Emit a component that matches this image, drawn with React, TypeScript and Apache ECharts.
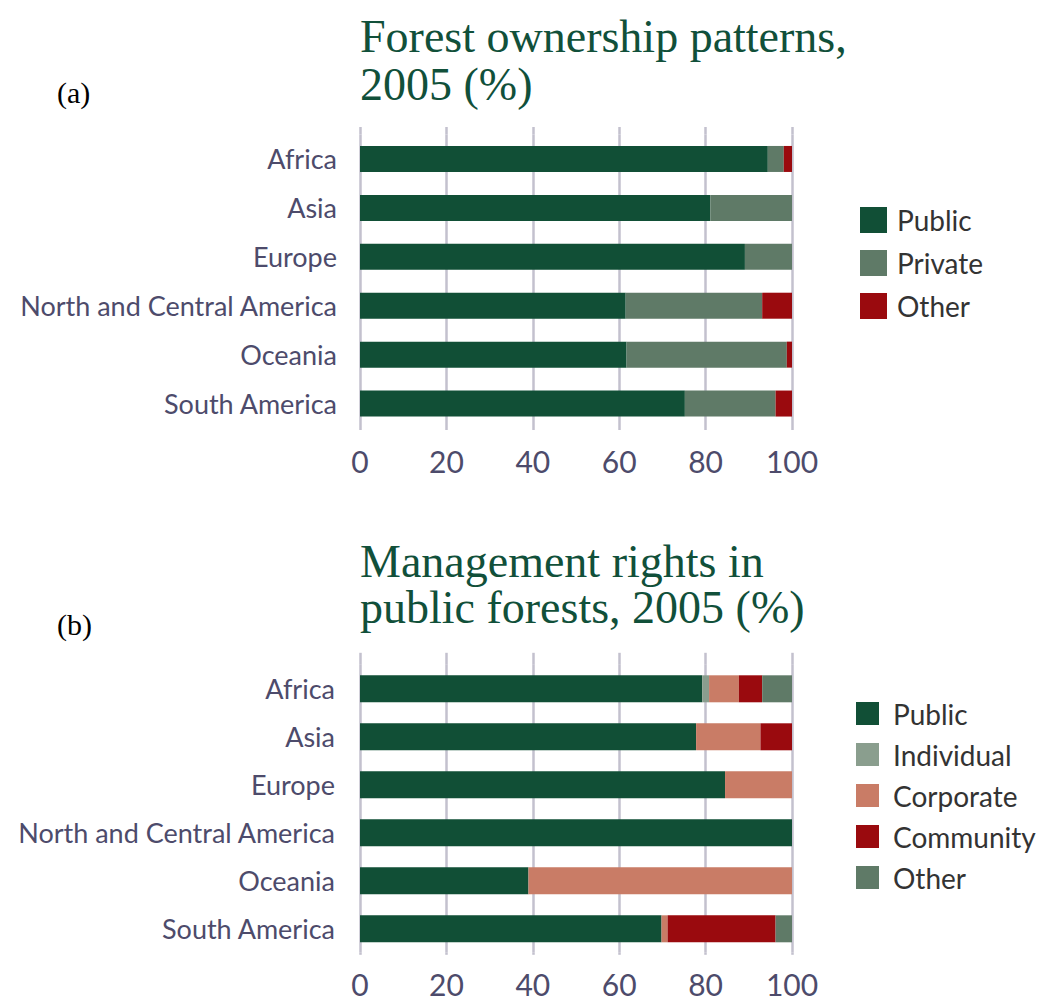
import React, { useEffect, useRef } from "react";
import * as echarts from "echarts";

const regions = ["Africa", "Asia", "Europe", "North and Central America", "Oceania", "South America"];

const ownershipPublic = [94.4, 81.1, 89.1, 61.5, 61.7, 75.2];
const ownershipPrivate = [3.7, 18.9, 10.9, 31.6, 37.1, 21.0];
const ownershipOther = [1.9, 0, 0, 6.9, 1.2, 3.8];

const mgmtPublic = [79.2, 77.8, 84.5, 100, 39.0, 69.8];
const mgmtIndividual = [1.6, 0, 0, 0, 0, 0];
const mgmtCorporate = [6.9, 14.9, 15.5, 0, 61.0, 1.4];
const mgmtCommunity = [5.4, 7.3, 0, 0, 0, 25.0];
const mgmtOther = [6.9, 0, 0, 0, 0, 3.8];

const ownershipNames = ["Public", "Private", "Other"];
const mgmtNames = ["Public", "Individual", "Corporate", "Community", "Other"];

const titleA = "Forest ownership patterns,\n2005 (%)";
const titleB = "Management rights in\npublic forests, 2005 (%)";
const xTicks = [0, 20, 40, 60, 80, 100];

const C_PUBLIC = "#114f36";
const C_PRIVATE = "#5f7a67";
const C_RED = "#9a0a0e";
const C_INDIV = "#8a9e8e";
const C_CORP = "#c97c66";

const GRID_COLOR = "#c3c1ce";
const LABEL_COLOR = "#4d4b6b";
const TITLE_COLOR = "#11503a";

export default function App() {
  const ref = useRef<HTMLDivElement>(null);
  useEffect(() => {
    if (!ref.current) return;
    const chart = echarts.init(ref.current, undefined, { renderer: "svg" });

    const xAxisBase = (gridIndex: number, labelMargin: number) => ({
      type: "value",
      gridIndex,
      min: xTicks[0],
      max: xTicks[xTicks.length - 1],
      interval: 20,
      axisLine: { show: false },
      axisTick: { show: true, length: 2, lineStyle: { color: GRID_COLOR, width: 2.5 } },
      splitLine: { show: true, lineStyle: { color: GRID_COLOR, width: 2.5 } },
      axisLabel: {
        margin: labelMargin,
        verticalAlign: "middle",
        fontFamily: "Lato",
        fontSize: 30,
        color: LABEL_COLOR,
      },
    });
    const xAxisTop = (gridIndex: number, tickLen: number) => ({
      type: "value",
      gridIndex,
      position: "top",
      min: 0,
      max: 100,
      interval: 20,
      axisLine: { show: false },
      axisTick: { show: true, length: tickLen, lineStyle: { color: GRID_COLOR, width: 2.5 } },
      splitLine: { show: false },
      axisLabel: { show: false },
    });
    const yAxisBase = (gridIndex: number, margin: number) => ({
      type: "category",
      gridIndex,
      data: regions,
      inverse: true,
      axisLine: { show: false },
      axisTick: { show: false },
      axisLabel: {
        margin,
        fontFamily: "Lato",
        fontSize: 27,
        color: LABEL_COLOR,
      },
    });

    const barA = (name: string, data: number[], color: string) => ({
      type: "bar",
      name: "a-" + name,
      xAxisIndex: 0,
      yAxisIndex: 0,
      stack: "a",
      barWidth: 26,
      data,
      itemStyle: { color },
    });
    const barB = (name: string, data: number[], color: string) => ({
      type: "bar",
      name: "b-" + name,
      xAxisIndex: 2,
      yAxisIndex: 1,
      stack: "b",
      barWidth: 27,
      data,
      itemStyle: { color },
    });

    const titleText = (text: string, y: number, lineHeight: number) => ({
      type: "text",
      left: 360,
      top: y,
      style: {
        text,
        fontFamily: "Liberation Serif",
        fontSize: 46,
        lineHeight,
        fill: TITLE_COLOR,
      },
    });

    chart.setOption({
      animation: false,
      grid: [
        { left: 360, width: 432, top: 134.5, height: 293.5 },
        { left: 360, width: 432, top: 664.8, height: 288 },
      ],
      xAxis: [xAxisBase(0, 33), xAxisTop(0, 7.5), xAxisBase(1, 31), xAxisTop(1, 12)],
      yAxis: [yAxisBase(0, 23), yAxisBase(1, 25)],
      legend: [
        {
          left: 860,
          top: 206,
          padding: 0,
          orient: "vertical",
          icon: "rect",
          itemWidth: 27,
          itemHeight: 26,
          itemGap: 15,
          selectedMode: false,
          data: ownershipNames.map((n) => "a-" + n),
          formatter: (n: string) => n.replace(/^a-/, ""),
          textStyle: { fontFamily: "Lato", fontSize: 28, color: "#333333", padding: [0, 0, 0, 5] },
        },
        {
          left: 856,
          top: 699.5,
          padding: 0,
          orient: "vertical",
          icon: "rect",
          itemWidth: 23,
          itemHeight: 23,
          itemGap: 13,
          selectedMode: false,
          data: mgmtNames.map((n) => "b-" + n),
          formatter: (n: string) => n.replace(/^b-/, ""),
          textStyle: { fontFamily: "Lato", fontSize: 28, color: "#333333", padding: [0, 0, 0, 9] },
        },
      ],
      graphic: [
        titleText(titleA, 12.5, 48),
        titleText(titleB, 538.5, 46),
        {
          type: "text",
          left: 57,
          y: 92,
          style: { text: "(a)", fontFamily: "Liberation Serif", fontSize: 30, fill: "#000", verticalAlign: "middle" },
        },
        {
          type: "text",
          left: 57,
          y: 624,
          style: { text: "(b)", fontFamily: "Liberation Serif", fontSize: 30, fill: "#000", verticalAlign: "middle" },
        },
      ],
      series: [
        barA(ownershipNames[0], ownershipPublic, C_PUBLIC),
        barA(ownershipNames[1], ownershipPrivate, C_PRIVATE),
        barA(ownershipNames[2], ownershipOther, C_RED),
        barB(mgmtNames[0], mgmtPublic, C_PUBLIC),
        barB(mgmtNames[1], mgmtIndividual, C_INDIV),
        barB(mgmtNames[2], mgmtCorporate, C_CORP),
        barB(mgmtNames[3], mgmtCommunity, C_RED),
        barB(mgmtNames[4], mgmtOther, C_PRIVATE),
      ],
    });
    return () => chart.dispose();
  }, []);
  return (
    <div
      ref={ref}
      style={{ position: "absolute", left: 0, top: 0, width: 1047, height: 1002, background: "#fff" }}
    />
  );
}
